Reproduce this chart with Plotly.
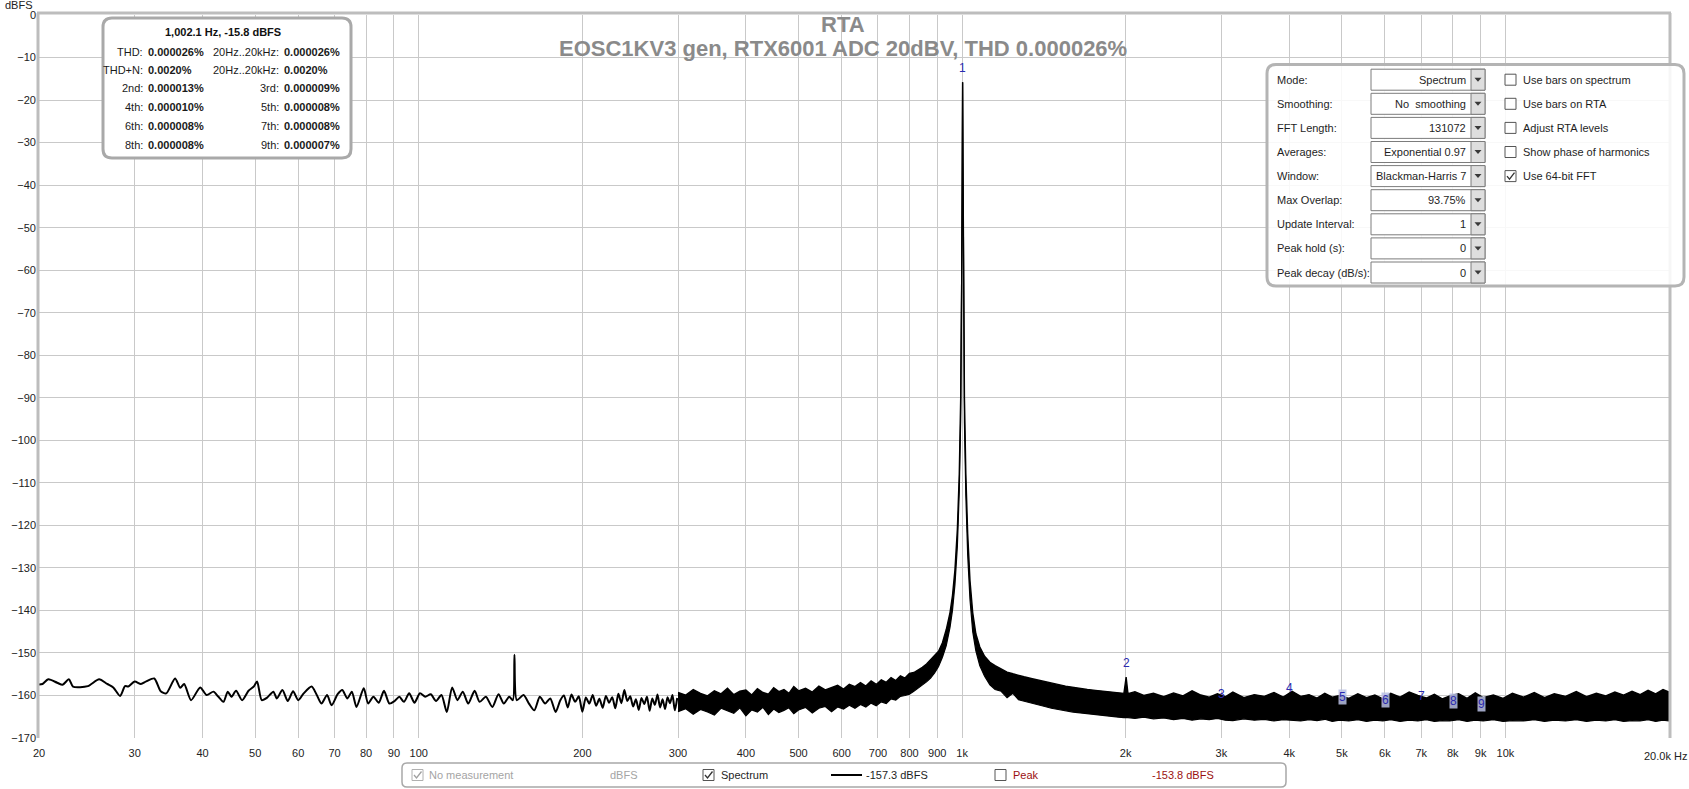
import math
import plotly.graph_objects as go

# ---------------- data ----------------
lf_freq = [20.0, 20.3, 20.8, 21.6, 22.1, 22.7, 23.1, 24.6, 25.8, 26.7, 27.4, 28.2, 28.8, 29.2,
           30.0, 30.8, 31.5, 32.6, 33.5, 34.3, 35.6, 36.4, 37.0, 38.1, 39.6, 40.7, 41.9, 42.7,
           43.7, 44.5, 45.2, 46.1, 47.3, 48.6, 49.7, 50.4, 51.4, 52.6, 54.0, 54.8, 56.1, 57.4,
           58.7, 60.0, 61.4, 63.5, 64.8, 66.2, 67.8, 69.1, 70.9, 72.3, 73.9, 75.3, 76.8, 79.2,
           80.7, 82.5, 84.4, 86.3, 88.3, 90.3, 92.1, 93.9, 96.0, 98.2, 100.5, 102.8, 105.2,
           107.6, 110.1, 112.6, 115.2, 117.8, 120.5, 123.3, 126.7, 129.4, 132.9, 136.6, 140.2,
           143.4, 146.7, 149.0, 150.0, 151.5, 155.9, 159.5, 163.2, 167.0, 170.8, 174.6, 178.6,
           182.2, 185, 188, 191, 194, 197, 200, 203, 206, 209, 212, 215, 218, 221, 224, 227,
           230, 233, 236, 239, 242, 245, 248, 251, 254, 257, 260, 263, 266, 269, 272, 275, 278,
           281, 284, 287, 290, 293, 296, 299]
lf_db = [-157.4, -157.3, -156.2, -157.0, -157.5, -156.2, -157.9, -157.8, -156.2, -157.3, -158.1,
         -160.1, -157.8, -157.9, -156.7, -157.3, -156.7, -156.0, -159.0, -159.5, -156.0, -158.2,
         -157.3, -161.1, -158.1, -159.9, -159.1, -160.2, -161.5, -159.1, -160.3, -158.9, -161.1,
         -158.9, -157.9, -156.7, -161.1, -160.5, -159.1, -160.7, -158.7, -161.3, -159.0, -161.1,
         -159.5, -157.9, -159.7, -161.9, -159.9, -162.3, -159.7, -158.7, -160.7, -159.1, -162.7,
         -158.3, -161.9, -160.3, -161.7, -158.9, -161.9, -161.3, -160.3, -161.5, -159.5, -161.7,
         -159.5, -160.3, -159.7, -161.3, -159.9, -163.9, -158.1, -161.1, -159.1, -161.9, -158.9,
         -161.5, -160.3, -162.7, -159.7, -161.9, -160.3, -161.1, -150.4, -161.1, -159.9, -161.9,
         -163.5, -160.3, -161.9, -160.7, -163.9, -161.1, -160.0, -162.8, -159.8, -161.5, -160.2,
         -163.8, -160.5, -161.9, -159.9, -162.4, -160.8, -162.9, -160.1, -161.7, -160.4, -163.0,
         -159.6, -161.8, -158.7, -161.3, -160.2, -162.6, -160.9, -163.4, -160.6, -162.0, -160.3,
         -163.6, -160.7, -162.2, -159.8, -162.8, -160.9, -163.2, -160.4, -161.8, -159.9, -163.5,
         -160.6]

band_freq = [300, 310, 320, 330, 340, 350, 360, 370, 380, 390, 400, 410, 420, 430, 440, 450, 460,
             470, 480, 490, 500, 515, 530, 545, 560, 575, 590, 605, 620, 635, 650, 665, 680, 695,
             710, 725, 740, 755, 770, 785, 800, 815, 830, 845, 860, 875, 890, 905, 920, 935, 950,
             960, 970, 980, 988, 994, 998, 1000.5, 1002.1, 1003.7, 1006, 1010, 1016, 1024, 1034,
             1046, 1060, 1078, 1100, 1125, 1150, 1180, 1210, 1240, 1270, 1300, 1340, 1380, 1420,
             1460, 1500, 1550, 1600, 1650, 1700, 1760, 1820, 1880, 1940, 1985, 2004, 2020, 2080,
             2160, 2250, 2350, 2450, 2550, 2650, 2750, 2850, 2950, 3050, 3150, 3300, 3450, 3600,
             3750, 3900, 4050, 4200, 4350, 4500, 4650, 4800, 4950, 5150, 5350, 5550, 5750, 5950,
             6150, 6400, 6650, 6900, 7150, 7400, 7650, 7900, 8200, 8500, 8800, 9100, 9500, 9900,
             10300, 10800, 11300, 11800, 12300, 12900, 13500, 14100, 14700, 15300, 15900, 16500,
             17100, 17700, 18300, 18900, 19500, 20000]
band_top = [-159.3, -159.9, -158.6, -159.5, -160.1, -158.9, -159.6, -158.3, -159.8, -159.0, -158.7,
            -159.9, -158.4, -159.3, -159.7, -158.2, -159.1, -158.6, -159.5, -157.9, -158.9, -158.3,
            -159.2, -157.8, -158.7, -158.1, -157.6, -158.5, -157.4, -157.9, -157.0, -157.8, -156.6,
            -157.4, -156.3, -156.9, -155.8, -156.5, -155.4, -155.9, -154.8, -154.6, -154.0, -153.4,
            -152.6, -151.6, -150.6, -149.6, -147.6, -144.5, -140.5, -136.5, -130.5, -121.0, -108.0,
            -90.0, -65.0, -35.0, -15.8, -35.0, -65.0, -90.0, -108.0, -122.0, -133.0, -140.5, -145.5,
            -148.6, -150.8, -152.2, -153.0, -153.8, -154.5, -154.9, -155.3, -155.6, -156.0, -156.4,
            -156.8, -157.2, -157.4, -157.8, -158.1, -158.3, -158.6, -158.8, -159.0, -159.3, -159.4,
            -159.5, -155.7, -159.6, -159.1, -160.0, -159.5, -160.3, -159.4, -160.1, -158.9, -159.9,
            -160.4, -159.6, -160.3, -159.2, -160.5, -159.8, -160.2, -159.3, -160.4, -159.0, -160.2,
            -159.8, -160.6, -159.5, -160.4, -160.0, -160.7, -159.6, -160.5, -159.9, -160.8, -159.5,
            -160.4, -159.2, -160.0, -160.6, -159.7, -160.8, -160.1, -159.6, -160.7, -159.4, -160.5,
            -159.9, -160.7, -159.5, -160.4, -159.3, -160.5, -159.6, -160.2, -159.1, -160.3, -159.5,
            -160.1, -159.2, -159.9, -159.0, -159.8, -158.8, -159.6, -158.6, -159.2]
band_bot = [-163.8, -163.1, -164.4, -163.3, -163.9, -164.6, -163.0, -163.7, -164.2, -162.9, -164.8,
            -163.4, -163.9, -162.8, -164.5, -163.2, -164.0, -163.5, -162.9, -164.3, -163.4, -162.8,
            -164.1, -163.0, -162.6, -163.8, -162.7, -163.2, -162.3, -163.0, -162.1, -162.7, -161.8,
            -162.4, -161.5, -161.9, -160.8, -161.1, -160.2, -160.0, -159.7, -159.0, -158.3, -157.6,
            -156.8, -155.9, -154.7, -153.2, -151.0, -148.3, -144.0, -140.0, -134.0, -125.0, -112.0,
            -95.0, -70.0, -40.0, -15.8, -40.0, -70.0, -96.0, -113.0, -127.0, -137.5, -145.0, -149.5,
            -153.0, -155.5, -157.5, -158.6, -159.0, -160.5, -159.5, -161.0, -161.3, -161.8, -162.2,
            -162.6, -163.0, -163.3, -163.6, -163.9, -164.1, -164.3, -164.6, -164.8, -165.0, -165.1,
            -165.2, -165.2, -165.2, -165.4, -165.1, -165.5, -165.3, -165.7, -165.4, -165.8, -165.5,
            -165.7, -165.4, -165.8, -165.9, -165.5, -165.8, -165.6, -166.0, -165.7, -165.8, -166.0,
            -165.7, -165.9, -165.6, -166.1, -165.8, -166.0, -165.7, -166.1, -165.8, -166.0, -165.7,
            -166.1, -165.8, -166.0, -165.7, -166.1, -165.9, -166.0, -165.7, -166.1, -165.8, -166.0,
            -165.7, -166.1, -165.9, -166.0, -165.7, -166.1, -165.8, -166.0, -165.7, -166.1, -165.8,
            -166.0, -165.7, -166.1, -165.9, -166.0, -165.7, -166.1, -165.8, -166.0]

harm_num = ["1", "2", "3", "4", "5", "6", "7", "8", "9"]
harm_freq = [1002.1, 2004.2, 3006.3, 4008.4, 5010.5, 6012.6, 7014.7, 8016.8, 9018.9]
harm_db = [-15.8, -155.7, -163.0, -161.6, -163.7, -164.3, -163.4, -164.5, -165.3]
harm_boxed = [False, False, False, False, True, True, False, True, True]

x_tick_vals = [20, 30, 40, 50, 60, 70, 80, 90, 100, 200, 300, 400, 500, 600, 700, 800, 900,
               1000, 2000, 3000, 4000, 5000, 6000, 7000, 8000, 9000, 10000, 20000]
x_tick_text = ["20", "30", "40", "50", "60", "70", "80", "90", "100", "200", "300", "400", "500",
               "600", "700", "800", "900", "1k", "2k", "3k", "4k", "5k", "6k", "7k", "8k", "9k",
               "10k", ""]
y_tick_vals = [0, -10, -20, -30, -40, -50, -60, -70, -80, -90, -100, -110, -120, -130, -140,
               -150, -160, -170]

title_lines = ["RTA", "EOSC1KV3 gen, RTX6001 ADC 20dBV, THD 0.000026%"]
info_header = "1,002.1 Hz, -15.8 dBFS"
info_rows = [("THD:", "0.000026%", "20Hz..20kHz:", "0.000026%"),
             ("THD+N:", "0.0020%", "20Hz..20kHz:", "0.0020%"),
             ("2nd:", "0.000013%", "3rd:", "0.000009%"),
             ("4th:", "0.000010%", "5th:", "0.000008%"),
             ("6th:", "0.000008%", "7th:", "0.000008%"),
             ("8th:", "0.000008%", "9th:", "0.000007%")]
panel_labels = ["Mode:", "Smoothing:", "FFT Length:", "Averages:", "Window:", "Max Overlap:",
                "Update Interval:", "Peak hold (s):", "Peak decay (dB/s):"]
panel_values = ["Spectrum", "No\u00a0 smoothing", "131072", "Exponential 0.97",
                "Blackman-Harris 7", "93.75%", "1", "0", "0"]
panel_checks = ["Use bars on spectrum", "Use bars on RTA", "Adjust RTA levels",
                "Show phase of harmonics", "Use 64-bit FFT"]
panel_checked = [False, False, False, False, True]

# ---------------- layout geometry ----------------
W, H = 1689, 789
L, R, T, B = 39, 20, 15, 51
PW, PH = W - L - R, H - T - B
FONT = "Liberation Sans, Arial, sans-serif"


def X(p):
    return (p - L) / PW


def Y(p):
    return 1 - (p - T) / PH


shapes = []
annotations = []


def rect(x0, y0, x1, y1, line_color=None, width=1, fill=None):
    shapes.append(dict(type="rect", xref="paper", yref="paper", x0=X(x0), x1=X(x1),
                       y0=Y(y1), y1=Y(y0),
                       line=dict(color=line_color or "rgba(0,0,0,0)",
                                 width=width if line_color else 0),
                       fillcolor=fill or "rgba(0,0,0,0)", layer="above"))


def path(pts, line_color=None, width=1, fill=None, close=True):
    d = "M" + " L".join(f"{X(a):.6f},{Y(b):.6f}" for a, b in pts) + (" Z" if close else "")
    shapes.append(dict(type="path", xref="paper", yref="paper", path=d,
                       line=dict(color=line_color or "rgba(0,0,0,0)",
                                 width=width if line_color else 0),
                       fillcolor=fill or "rgba(0,0,0,0)", layer="above"))


def rrect(x0, y0, x1, y1, r, line_color, width, fill):
    def P(a, b):
        return f"{X(a):.6f},{Y(b):.6f}"
    d = (f"M{P(x0 + r, y0)} L{P(x1 - r, y0)} Q{P(x1, y0)} {P(x1, y0 + r)} "
         f"L{P(x1, y1 - r)} Q{P(x1, y1)} {P(x1 - r, y1)} L{P(x0 + r, y1)} "
         f"Q{P(x0, y1)} {P(x0, y1 - r)} L{P(x0, y0 + r)} Q{P(x0, y0)} {P(x0 + r, y0)} Z")
    shapes.append(dict(type="path", xref="paper", yref="paper", path=d,
                       line=dict(color=line_color, width=width), fillcolor=fill, layer="above"))


def text(x, y, s, size=11, color="#1a1a1a", xanchor="left", bold=False):
    annotations.append(dict(xref="paper", yref="paper", x=X(x), y=Y(y),
                            text=f"<b>{s}</b>" if bold else s, showarrow=False,
                            xanchor=xanchor, yanchor="middle", borderpad=0,
                            font=dict(size=size, color=color, family=FONT)))


def checkbox(x, yc, checked, color="#555555", tick="#333333"):
    rect(x, yc - 5.5, x + 11, yc + 5.5, color, 1, "white")
    if checked:
        path([(x + 2, yc), (x + 4.5, yc + 3), (x + 9.5, yc - 3.5)], tick, 1.3, None, close=False)


# ---------------- figure ----------------
fig = go.Figure()
fig.add_trace(go.Scatter(x=lf_freq, y=lf_db, mode="lines",
                         line=dict(color="black", width=2, shape="spline", smoothing=0.7),
                         hoverinfo="skip"))
fig.add_trace(go.Scatter(x=band_freq, y=band_bot, mode="lines",
                         line=dict(color="black", width=1.2), hoverinfo="skip"))
fig.add_trace(go.Scatter(x=band_freq, y=band_top, mode="lines", fill="tonexty",
                         fillcolor="black", line=dict(color="black", width=1.4),
                         hoverinfo="skip"))

# plot frame (thick light-gray left/top/right)
shapes.append(dict(type="line", xref="paper", yref="paper", x0=X(38), x1=X(38), y0=0, y1=Y(13),
                   line=dict(color="#bdbdbd", width=3), layer="above"))
shapes.append(dict(type="line", xref="paper", yref="paper", x0=X(37), x1=X(1671), y0=Y(13),
                   y1=Y(13), line=dict(color="#bdbdbd", width=3), layer="above"))
shapes.append(dict(type="line", xref="paper", yref="paper", x0=X(1670), x1=X(1670), y0=0,
                   y1=Y(13), line=dict(color="#bdbdbd", width=3), layer="above"))

# title
text(843, 25, title_lines[0], size=22, color="#8a8a8a", xanchor="center", bold=True)
text(843, 48.5, title_lines[1], size=22, color="#8a8a8a", xanchor="center", bold=True)

# axis unit labels
text(19, 5, "dBFS", size=11, color="#222222", xanchor="center")
text(1688, 756, "20.0k Hz", size=11, color="#222222", xanchor="right")

# harmonic markers
for n, f, d, boxed in zip(harm_num, harm_freq, harm_db, harm_boxed):
    annotations.append(dict(xref="x", yref="y", x=math.log10(f), y=d, text=n, showarrow=False,
                            xanchor="center", yanchor="middle", yshift=14, borderpad=0,
                            bgcolor="rgba(185,192,228,0.85)" if boxed else "rgba(0,0,0,0)",
                            font=dict(size=12, color="#2a2ab0", family=FONT)))

# info box (top-left)
rrect(103, 18, 351, 158, 9, "#a9a9a9", 3, "white")
text(223, 31.5, info_header, size=11, color="#111111", xanchor="center", bold=True)
row_y = [51.5, 70, 88.5, 107, 126, 145]
for yy, (l1, v1, l2, v2) in zip(row_y, info_rows):
    text(144, yy, l1, xanchor="right")
    text(147, yy, v1, xanchor="left", bold=True)
    text(280, yy, l2, xanchor="right")
    text(283, yy, v2, xanchor="left", bold=True)

# settings panel (top-right)
rrect(1267, 64.5, 1684, 286, 9, "#b4b4b4", 3, "rgba(255,255,255,0.86)")
for i, (lab, val) in enumerate(zip(panel_labels, panel_values)):
    yc = 79.7 + 24.1 * i
    text(1276, yc, lab, size=11, color="#1e1e1e")
    rect(1371, yc - 10.5, 1485, yc + 10.5, "#7c7c7c", 1, "white")
    rect(1471, yc - 10.5, 1485, yc + 10.5, "#7c7c7c", 1, "#dedede")
    path([(1474.5, yc - 2), (1481.5, yc - 2), (1478, yc + 2)], None, 0, "#3a3a3a")
    text(1467, yc, val, size=11, color="#1e1e1e", xanchor="right")
for i, (lab, chk) in enumerate(zip(panel_checks, panel_checked)):
    yc = 79.7 + 24.1 * i
    checkbox(1505, yc, chk)
    text(1522, yc, lab, size=11, color="#1e1e1e")

# bottom legend bar
rrect(402, 763, 1286, 787, 5, "#a8a8a8", 1.5, "white")
checkbox(412, 775, True, color="#b0b0b0", tick="#a0a0a0")
text(428, 775, "No measurement", size=11, color="#a4a4a4")
text(609, 775, "dBFS", size=11, color="#a4a4a4")
checkbox(703, 775, True)
text(720, 775, "Spectrum", size=11, color="#1e1e1e")
shapes.append(dict(type="line", xref="paper", yref="paper", x0=X(831), x1=X(862), y0=Y(775),
                   y1=Y(775), line=dict(color="black", width=2), layer="above"))
text(865, 775, "-157.3 dBFS", size=11, color="#1e1e1e")
checkbox(995, 775, False)
text(1012, 775, "Peak", size=11, color="#9b1010")
text(1151, 775, "-153.8 dBFS", size=11, color="#9b1010")

fig.update_layout(
    width=W, height=H,
    margin=dict(l=L, r=R, t=T, b=B, pad=0),
    paper_bgcolor="white", plot_bgcolor="white",
    showlegend=False,
    font=dict(family=FONT, size=11, color="#222222"),
    shapes=shapes, annotations=annotations,
    xaxis=dict(type="log", range=[math.log10(20), math.log10(20000)],
               tickvals=x_tick_vals, ticktext=x_tick_text, tickangle=0,
               showgrid=True, gridcolor="#c9c9c9", gridwidth=1, zeroline=False,
               showline=False, ticks="", automargin=False, ticklabelstandoff=7,
               tickfont=dict(size=11, color="#222222", family=FONT)),
    yaxis=dict(range=[-170, 0], tickvals=y_tick_vals, showgrid=True, gridcolor="#c9c9c9",
               gridwidth=1, zeroline=False, showline=False, ticks="", automargin=False,
               ticklabelstandoff=2,
               tickfont=dict(size=11, color="#222222", family=FONT)),
)

fig.write_html("out.html",
               config={"displayModeBar": False},
               post_script="document.body.style.margin='0';"
                           "document.body.style.overflow='hidden';")
